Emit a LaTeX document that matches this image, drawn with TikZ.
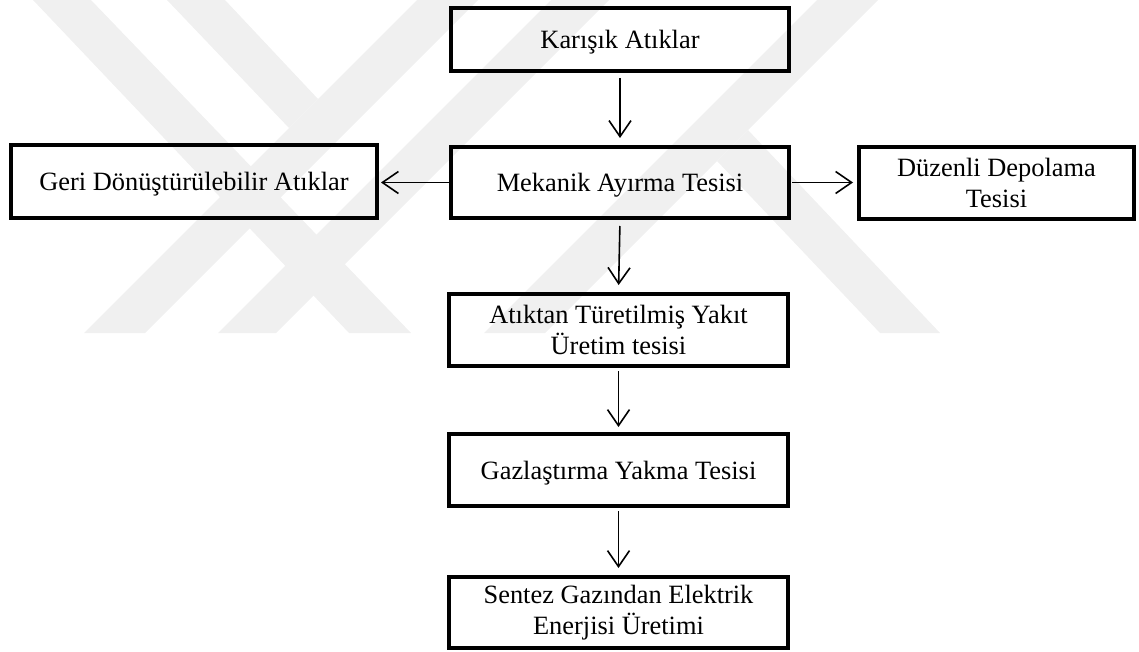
\documentclass[tikz,border=0pt]{standalone}
\usepackage{fontspec}
\setmainfont{Liberation Serif}
\usetikzlibrary{arrows.meta}
\definecolor{wm}{HTML}{F0F0F0}
\begin{document}
\begin{tikzpicture}[x=1pt,y=-1pt,
  box/.style={draw, line width=3.8pt, inner sep=0pt, align=center,
              font=\fontsize{26.4}{30.5}\selectfont},
  oneline/.style={text height=18pt, text depth=0pt},
  flow/.style={line width=1.6pt, -{Straight Barb[length=16pt,width=22pt]}},
  wmark/.style={fill=wm, draw=none}]
\useasboundingbox (0,0) rectangle (1139,652);
% faint watermark bands
\path[wmark] (33,0) -- (91,0) -- (411,333) -- (349,333) -- cycle;
\path[wmark] (84,333) -- (145,333) -- (478,0) -- (417,0) -- cycle;
\path[wmark] (167,0) -- (225,0) -- (318,99) -- (289,128) -- cycle;
\path[wmark] (218,333) -- (276,333) -- (609,0) -- (551,0) -- cycle;
\path[wmark] (484,333) -- (545,333) -- (878,0) -- (817,0) -- cycle;
\path[wmark] (748,130) -- (940,333) -- (880,333) -- (717,161) -- cycle;
% boxes
\node[box, oneline, minimum width=338.2pt, minimum height=63.2pt] (K) at (620,39.5) {Karışık Atıklar};
\node[box, oneline, minimum width=338.2pt, minimum height=71.2pt] (M) at (620,182.5) {Mekanik Ayırma Tesisi};
\node[box, oneline, minimum width=366.2pt, minimum height=73.2pt] (G) at (194,181.5) {Geri Dönüştürülebilir Atıklar};
\node[box, minimum width=275.2pt, minimum height=72.2pt] (D) at (996.5,183) {Düzenli Depolama\\Tesisi};
\node[box, minimum width=339.2pt, minimum height=72.2pt] (A) at (618.5,330) {Atıktan Türetilmiş Yakıt\\Üretim tesisi};
\node[box, oneline, minimum width=339.2pt, minimum height=72.2pt] (Z) at (618.5,470) {Gazlaştırma Yakma Tesisi};
\node[box, minimum width=339.2pt, minimum height=71.2pt] (S) at (618.5,612.5) {Sentez Gazından Elektrik\\Enerjisi Üretimi};
% connectors
\draw[flow, shorten <=5pt, shorten >=7pt] (K.south) -- (M.north);
\draw[flow, shorten <=6pt, shorten >=7pt] (M.south) -- (A.north);
\draw[flow, shorten <=3pt, shorten >=5pt] (A.south) -- (Z.north);
\draw[flow, shorten <=3pt, shorten >=7pt] (Z.south) -- (S.north);
\draw[flow, shorten >=2pt] (M.west) -- (M.west -| G.east);
\draw[flow, shorten <=1pt, shorten >=4pt] (M.east) -- (M.east -| D.west);
\end{tikzpicture}
\end{document}
